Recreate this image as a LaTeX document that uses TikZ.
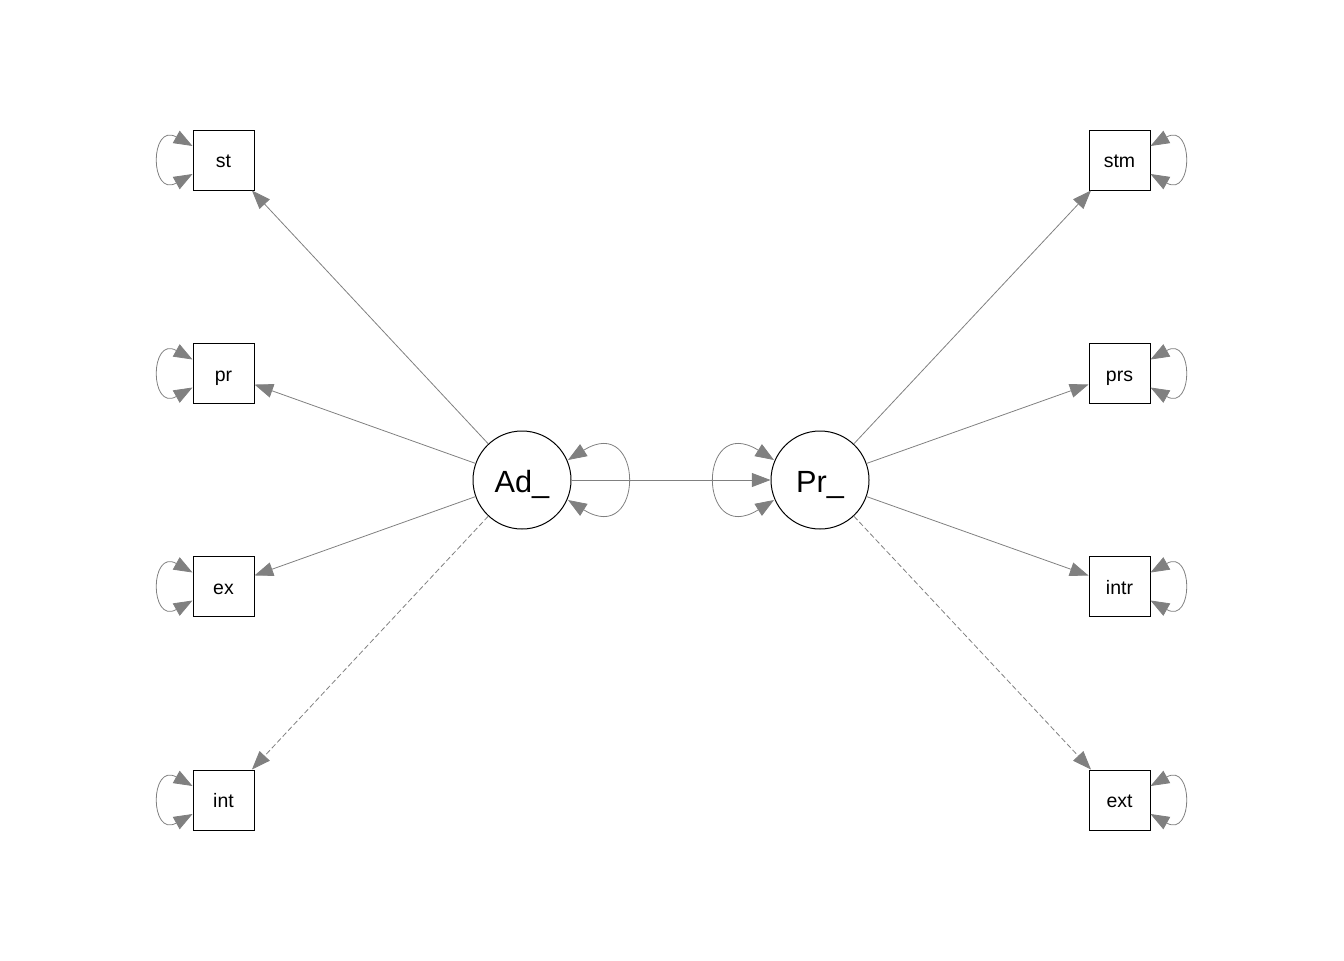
\documentclass[tikz,border=0pt]{standalone}
\usepackage{fontspec}
\setmainfont{Liberation Sans}
\usetikzlibrary{arrows.meta,calc}
\begin{document}
\begin{tikzpicture}[x=0.75pt,y=-0.75pt,
  manifest/.style={draw=black,line width=0.75pt,minimum width=45.75pt,minimum height=45pt,
    inner sep=0pt,text height=11.4pt,text depth=0pt,font=\fontsize{14.6}{16}\selectfont},
  latent/.style={circle,draw=black,line width=0.75pt,minimum size=73.5pt,inner sep=0pt,
    text height=18pt,text depth=0pt,font=\fontsize{23}{26}\selectfont},
  tip/.tip={Triangle[length=14pt,width=10.5pt]},
  load/.style={draw=gray,line width=0.6pt,-tip,gray},
  dashload/.style={load,dash pattern=on 4pt off 2pt},
  resid/.style={draw=gray,line width=0.6pt,tip-tip,gray}
]
\useasboundingbox (0,0) rectangle (1344,960);

% latent variables
\node[latent] (ad) at (522,480) {Ad\_};
\node[latent] (pr) at (820,480) {Pr\_};

% indicators
\node[manifest] (st)   at (223.5,160)  {st};
\node[manifest] (prx)  at (223.5,373.5){pr};
\node[manifest] (ex)   at (223.5,586.5){ex};
\node[manifest] (int)  at (223.5,800)  {int};
\node[manifest] (stm)  at (1119.5,160)  {stm};
\node[manifest] (prs)  at (1119.5,373.5){prs};
\node[manifest] (intr) at (1119.5,586.5){intr};
\node[manifest] (ext)  at (1119.5,800)  {ext};

% loadings
\draw[load] (ad) -- (st);
\draw[load] (ad) -- (prx);
\draw[load] (ad) -- (ex);
\draw[dashload] (ad) -- (int);
\draw[load] (pr) -- (stm);
\draw[load] (pr) -- (prs);
\draw[load] (pr) -- (intr);
\draw[dashload] (pr) -- (ext);

% regression
\draw[load] (ad) -- (pr);

% residual variances of indicators
\foreach \n in {st,prx,ex,int}{
  \draw[resid] ($(\n.west)+(0,-14)$) .. controls ($(\n.west)+(-43,-38)$)
    and ($(\n.west)+(-43,38)$) .. ($(\n.west)+(0,14)$);
}
\foreach \n in {stm,prs,intr,ext}{
  \draw[resid] ($(\n.east)+(0,-14)$) .. controls ($(\n.east)+(43,-38)$)
    and ($(\n.east)+(43,38)$) .. ($(\n.east)+(0,14)$);
}

% residual variances of latents
\draw[resid] ($(ad.center)+(46,-20)$) .. controls ($(ad.center)+(123,-68)$)
  and ($(ad.center)+(123,68)$) .. ($(ad.center)+(46,20)$);
\draw[resid] ($(pr.center)+(-46,-20)$) .. controls ($(pr.center)+(-123,-68)$)
  and ($(pr.center)+(-123,68)$) .. ($(pr.center)+(-46,20)$);
\end{tikzpicture}
\end{document}
